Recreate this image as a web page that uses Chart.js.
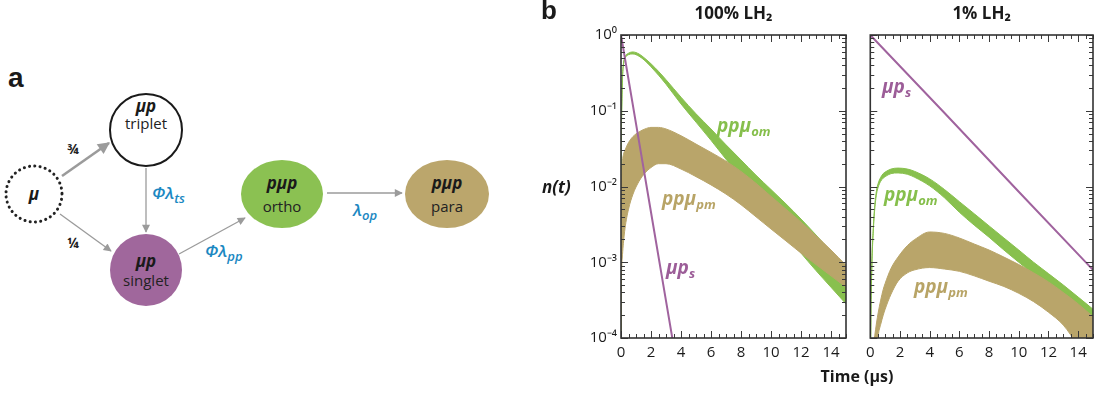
<!DOCTYPE html>
<html><head><meta charset="utf-8">
<script src="https://cdn.jsdelivr.net/npm/chart.js@4.4.1/dist/chart.umd.min.js"></script>
<style>
html,body{margin:0;padding:0;background:#fff;}
body{width:1099px;height:394px;position:relative;overflow:hidden;font-family:'Open Sans',sans-serif;}
svg,canvas{position:absolute;}
</style></head>
<body>
<svg id="diagram" width="540" height="394" style="left:0;top:0" font-family="Open Sans, sans-serif">
  <defs>
    <marker id="ahBig" viewBox="0 0 10 10" refX="9" refY="5" markerWidth="15" markerHeight="12" markerUnits="userSpaceOnUse" orient="auto"><path d="M0,0 L10,5 L0,10 z" fill="#9b9b9b"/></marker>
    <marker id="ah" viewBox="0 0 10 10" refX="9" refY="5" markerWidth="11" markerHeight="8" markerUnits="userSpaceOnUse" orient="auto"><path d="M0,0 L10,5 L0,10 z" fill="#9b9b9b"/></marker>
  </defs>
  <text x="8" y="87" font-family="Liberation Sans, Arial, sans-serif" font-weight="bold" font-size="28" fill="#1a1a1a">a</text>
  <line x1="62" y1="176" x2="109" y2="143" stroke="#9b9b9b" stroke-width="2.6" marker-end="url(#ahBig)"/>
  <line x1="60" y1="214" x2="111" y2="251" stroke="#9b9b9b" stroke-width="1.3" marker-end="url(#ah)"/>
  <line x1="146" y1="168" x2="146" y2="232" stroke="#9b9b9b" stroke-width="1.3" marker-end="url(#ah)"/>
  <line x1="179" y1="254" x2="245" y2="218" stroke="#9b9b9b" stroke-width="1.3" marker-end="url(#ah)"/>
  <line x1="327" y1="193" x2="402" y2="193" stroke="#9b9b9b" stroke-width="1.3" marker-end="url(#ah)"/>
  <text x="73" y="154" text-anchor="middle" font-weight="bold" font-size="14" fill="#222">¾</text>
  <text x="73" y="248" text-anchor="middle" font-weight="bold" font-size="14" fill="#222">¼</text>
  <text x="152" y="199" font-style="italic" font-weight="600" font-size="17" fill="#1b88c2">Φλ<tspan font-size="13" dy="4">ts</tspan></text>
  <text x="205" y="257" font-style="italic" font-weight="600" font-size="17" fill="#1b88c2">Φλ<tspan font-size="13" dy="4">pp</tspan></text>
  <text x="353" y="216" font-style="italic" font-weight="600" font-size="17" fill="#1b88c2">λ<tspan font-size="13" dy="4">op</tspan></text>
  <circle cx="34" cy="194" r="28" fill="#fff" stroke="#222" stroke-width="3" stroke-dasharray="0.1 5.2" stroke-linecap="round"/>
  <text x="34" y="200" text-anchor="middle" font-style="italic" font-weight="bold" font-size="17" fill="#1a1a1a">μ</text>
  <circle cx="146" cy="130" r="36" fill="#fff" stroke="#1a1a1a" stroke-width="2"/>
  <text x="146" y="112" text-anchor="middle" font-style="italic" font-weight="bold" font-size="17" fill="#1a1a1a">μp</text>
  <text x="146" y="129" text-anchor="middle" font-size="15" fill="#222">triplet</text>
  <circle cx="146" cy="270" r="36" fill="#a0679c"/>
  <text x="146" y="267" text-anchor="middle" font-style="italic" font-weight="bold" font-size="17" fill="#1a1a1a">μp</text>
  <text x="146" y="286" text-anchor="middle" font-size="15" fill="#222">singlet</text>
  <ellipse cx="282" cy="194" rx="41" ry="34" fill="#8bc152"/>
  <text x="282" y="189" text-anchor="middle" font-style="italic" font-weight="bold" font-size="17" fill="#1a1a1a">pμp</text>
  <text x="282" y="212" text-anchor="middle" font-size="15" fill="#222">ortho</text>
  <ellipse cx="447" cy="194" rx="42" ry="34" fill="#bba66c"/>
  <text x="447" y="189" text-anchor="middle" font-style="italic" font-weight="bold" font-size="17" fill="#1a1a1a">pμp</text>
  <text x="447" y="212" text-anchor="middle" font-size="15" fill="#222">para</text>
</svg>
<canvas id="c1" width="300" height="394" style="left:560px;top:0"></canvas>
<canvas id="c2" width="239" height="394" style="left:860px;top:0"></canvas>
<svg id="labels" width="1099" height="394" style="left:0;top:0;pointer-events:none" font-family="Open Sans, sans-serif">
  <text x="541" y="19" font-family="Liberation Sans, Arial, sans-serif" font-weight="bold" font-size="26" fill="#1a1a1a">b</text>
  <text x="542" y="193" font-style="italic" font-weight="bold" font-size="17" fill="#1a1a1a">n(t)</text>
  <text x="857" y="382" text-anchor="middle" font-weight="bold" font-size="16" fill="#1a1a1a">Time (µs)</text>
  <text x="717" y="132" font-style="italic" font-weight="bold" font-size="19" fill="#86bf4c">ppμ<tspan font-size="13" dy="4">om</tspan></text>
  <text x="662" y="205" font-style="italic" font-weight="bold" font-size="19" fill="#b8a466">ppμ<tspan font-size="13" dy="4">pm</tspan></text>
  <text x="666" y="274" font-style="italic" font-weight="bold" font-size="19" fill="#9c5d98">μp<tspan font-size="13" dy="4">s</tspan></text>
  <text x="882" y="93" font-style="italic" font-weight="bold" font-size="19" fill="#9c5d98">μp<tspan font-size="13" dy="4">s</tspan></text>
  <text x="884" y="201" font-style="italic" font-weight="bold" font-size="19" fill="#86bf4c">ppμ<tspan font-size="13" dy="4">om</tspan></text>
  <text x="914" y="293" font-style="italic" font-weight="bold" font-size="19" fill="#b8a466">ppμ<tspan font-size="13" dy="4">pm</tspan></text>
</svg>
<script>
// ---------- data: 100% LH2 ----------
const tA = [0, 0.01, 0.03, 0.05, 0.1, 0.16, 0.27, 0.5, 0.8, 1.2, 1.6, 2, 2.5, 3, 4, 5, 6, 7, 8, 9, 10, 11, 12, 13, 14, 15];
const omUpperA = [3.16e-5, 0.0126, 0.0631, 0.115, 0.282, 0.417, 0.513, 0.575, 0.597, 0.562, 0.490, 0.417, 0.331, 0.257, 0.151, 0.0912, 0.0575, 0.0355, 0.0224, 0.0141, 0.00912, 0.00589, 0.00372, 0.00229, 0.00138, 0.000813];
const omLowerA = [3.16e-5, 0.0120, 0.0603, 0.110, 0.269, 0.398, 0.490, 0.550, 0.562, 0.525, 0.457, 0.380, 0.295, 0.224, 0.123, 0.0708, 0.0407, 0.0229, 0.0129, 0.00724, 0.00407, 0.00229, 0.00132, 0.000776, 0.000468, 0.000282];
const pmUpperA = [0.00251, 0.00501, 0.0100, 0.0158, 0.0219, 0.0263, 0.0302, 0.0380, 0.0457, 0.0525, 0.0575, 0.0603, 0.0603, 0.0575, 0.0468, 0.0363, 0.0282, 0.0216, 0.0158, 0.0110, 0.00741, 0.00501, 0.00339, 0.00224, 0.00145, 0.000912];
const pmLowerA = [3.16e-5, 0.000251, 0.000631, 0.000891, 0.00126, 0.00178, 0.00282, 0.00501, 0.00794, 0.0117, 0.0151, 0.0178, 0.0200, 0.0200, 0.0170, 0.0135, 0.0105, 0.00794, 0.00575, 0.00398, 0.00275, 0.00191, 0.00132, 0.000933, 0.000661, 0.000468];
const tSA = [0, 1, 2, 3, 3.6];
const sA = [1, 0.0676, 0.00457, 0.000309, 6.17e-5];

// ---------- data: 1% LH2 ----------
const tB = [0, 0.03, 0.1, 0.2, 0.3, 0.42, 0.53, 0.7, 0.87, 1, 1.4, 1.87, 2.5, 3, 4, 5, 6, 7, 8, 9, 10, 11, 12, 13, 14, 15];
const omUpperB = [1e-5, 0.000126, 0.000891, 0.00282, 0.00562, 0.00891, 0.0110, 0.0132, 0.0148, 0.0155, 0.0170, 0.0175, 0.0170, 0.0158, 0.0126, 0.00912, 0.00631, 0.00437, 0.00302, 0.00209, 0.00145, 0.00100, 0.000708, 0.000501, 0.000347, 0.000240];
const omLowerB = [1e-5, 0.000112, 0.000794, 0.00251, 0.00501, 0.00794, 0.00977, 0.0117, 0.0129, 0.0135, 0.0148, 0.0151, 0.0145, 0.0132, 0.0102, 0.00708, 0.00457, 0.00309, 0.00214, 0.00145, 0.00100, 0.000692, 0.000479, 0.000331, 0.000234, 0.000158];
const pmUpperB = [1e-6, 1.58e-5, 3.98e-5, 7.59e-5, 0.000107, 0.000158, 0.000214, 0.000316, 0.000437, 0.000525, 0.000832, 0.00117, 0.00166, 0.00200, 0.00251, 0.00240, 0.00209, 0.00174, 0.00145, 0.00117, 0.000933, 0.000724, 0.000550, 0.000398, 0.000282, 0.000191];
const pmLowerB = [1e-6, 1.58e-6, 6.31e-6, 1.58e-5, 3.16e-5, 6.31e-5, 0.000107, 0.000151, 0.000200, 0.000240, 0.000380, 0.000562, 0.000724, 0.000794, 0.000851, 0.000813, 0.000759, 0.000661, 0.000562, 0.000479, 0.000389, 0.000302, 0.000219, 0.000148, 7.94e-5, 4.47e-5];
const tSB = [0, 5, 10, 15];
const sB = [1, 0.0933, 0.00851, 0.000794];

// ---------- ticks ----------
const yDecades = [1e-4, 1e-3, 1e-2, 1e-1, 1];
const yTickLabels = ['10⁻⁴', '10⁻³', '10⁻²', '10⁻¹', '10⁰'];
const xMajorStep = 2;
const xMinorStep = 0.5;

const GREEN = '#88c04e', TAN = '#b9a56a', PURPLE = '#a0639e';

const pts = (t, v) => t.map((x, i) => ({x, y: v[i]}));

const frameTicks = {
  id: 'frameTicks',
  afterDatasetsDraw(chart) {
    const {ctx, chartArea: a, scales: {x, y}} = chart;
    ctx.save();
    ctx.strokeStyle = '#3a3a3a';
    ctx.lineWidth = 1;
    ctx.beginPath();
    for (let t = x.min; t <= x.max + 1e-9; t += xMinorStep) {
      const px = Math.round(x.getPixelForValue(t)) + 0.5;
      const len = (Math.abs(t / xMajorStep - Math.round(t / xMajorStep)) < 1e-9) ? 7 : 4;
      ctx.moveTo(px, a.bottom); ctx.lineTo(px, a.bottom - len);
      ctx.moveTo(px, a.top); ctx.lineTo(px, a.top + len);
    }
    yDecades.forEach((d, k) => {
      for (let m = 1; m <= 9; m++) {
        const v = d * m;
        if (v > y.max * 1.0001) break;
        if (k === yDecades.length - 1 && m > 1) break;
        const py = Math.round(y.getPixelForValue(v)) + 0.5;
        const len = m === 1 ? 7 : 4;
        ctx.moveTo(a.left, py); ctx.lineTo(a.left + len, py);
        ctx.moveTo(a.right, py); ctx.lineTo(a.right - len, py);
      }
    });
    ctx.stroke();
    ctx.lineWidth = 1.6;
    ctx.strokeStyle = '#333';
    ctx.strokeRect(a.left, a.top, a.right - a.left, a.bottom - a.top);
    ctx.restore();
  }
};

function makeChart(id, title, t, omU, omL, pmU, pmL, ts, s, showY, yWidth, padRight) {
  const band = (data, color, fill) => ({
    data, borderColor: color, backgroundColor: color, borderWidth: 1,
    pointRadius: 0, fill, cubicInterpolationMode: 'monotone'
  });
  return new Chart(document.getElementById(id), {
    type: 'line',
    data: {
      datasets: [
        {data: pts(ts, s), borderColor: PURPLE, borderWidth: 2, pointRadius: 0, fill: false},
        band(pts(t, pmU), TAN, '+1'),
        band(pts(t, pmL), TAN, false),
        band(pts(t, omU), GREEN, '+1'),
        band(pts(t, omL), GREEN, false)
      ]
    },
    options: {
      responsive: false,
      animation: false,
      devicePixelRatio: 1,
      layout: {padding: {top: 0, right: padRight, bottom: 0, left: 0}},
      plugins: {
        legend: {display: false},
        tooltip: {enabled: false},
        title: {
          display: true, text: title, fullSize: false, color: '#1a1a1a',
          font: {family: 'Open Sans', size: 17, weight: 'bold'},
          padding: {top: 4, bottom: 10.6}
        }
      },
      scales: {
        x: {
          type: 'linear', min: 0, max: 15,
          grid: {display: false, drawTicks: false},
          border: {display: false},
          ticks: {stepSize: xMajorStep, includeBounds: false, padding: 6, color: '#1a1a1a',
                  font: {family: 'Open Sans', size: 15}, maxRotation: 0},
          afterFit: sc => { sc.height = 56; }
        },
        y: {
          type: 'logarithmic', min: 1e-4, max: 1,
          grid: {display: false, drawTicks: false},
          border: {display: false},
          ticks: {
            display: showY, autoSkip: false, padding: 4, color: '#1a1a1a',
            font: {family: 'Open Sans', size: 15},
            callback: v => {
              const k = yDecades.findIndex(d => Math.abs(d - v) / d < 1e-6);
              return k >= 0 ? yTickLabels[k] : '';
            }
          },
          afterFit: sc => { sc.width = yWidth; }
        }
      }
    },
    plugins: [frameTicks]
  });
}

makeChart('c1', '100% LH₂', tA, omUpperA, omLowerA, pmUpperA, pmLowerA, tSA, sA, true, 61, 14);
makeChart('c2', '1% LH₂', tB, omUpperB, omLowerB, pmUpperB, pmLowerB, tSB, sB, false, 9, 6);
</script>
</body></html>
